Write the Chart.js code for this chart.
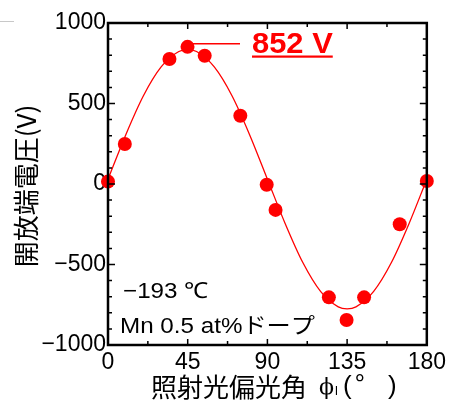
<!DOCTYPE html>
<html>
<head>
<meta charset="utf-8">
<script src="https://cdn.jsdelivr.net/npm/chart.js@4"></script>
<style>
  html, body { margin: 0; padding: 0; background: #fff; }
  #wrap { width: 450px; height: 403px; }
</style>
</head>
<body>
<div id="wrap"><canvas id="chart" width="450" height="403"></canvas></div>
<script>
'use strict';

// measured points
const angles   = [0, 9.5, 34.7, 44.9, 54.6, 74.7, 89.6, 94.6, 124.7, 134.7, 144.6, 164.7, 180];
const voltages = [15, 248, 776, 852, 797, 424, -5, -161, -704, -845, -704, -250, 19];

// fitted curve
const fitAngles   = [0, 10, 20, 30, 40, 45, 50, 60, 70, 80, 90, 100, 110, 120, 130, 135, 140, 150, 160, 170, 180];
const fitVoltages = [30, 305, 548, 727, 823, 835, 823, 727, 548, 305, 30, -245, -488, -667, -763, -775, -763, -667, -488, -245, 30];

const xTicks = [0, 45, 90, 135, 180];
const yTicks = [-1000, -500, 0, 500, 1000];

const RED = '#ff0000';
const LATIN = '"Liberation Sans", Arial, sans-serif';
const CJK = '"Noto Sans CJK JP", "Noto Sans", sans-serif';

function wideText(ctx, text, x, y, sx) {
  ctx.save();
  ctx.translate(x, y);
  ctx.scale(sx, 1);
  ctx.fillText(text, 0, 0);
  ctx.restore();
}

const extras = {
  id: 'extras',
  afterDraw(chart) {
    const { ctx, chartArea: a, scales: { x, y } } = chart;
    ctx.save();

    // stray crop line top-left
    ctx.strokeStyle = '#c8c8c8';
    ctx.lineWidth = 1;
    ctx.beginPath();
    ctx.moveTo(0, 21.5);
    ctx.lineTo(14, 21.5);
    ctx.stroke();

    // frame
    ctx.strokeStyle = '#000';
    ctx.lineWidth = 2.5;
    ctx.strokeRect(a.left, a.top, a.right - a.left, a.bottom - a.top);

    // inward ticks
    ctx.lineWidth = 1.5;
    ctx.beginPath();
    for (let v = 0; v <= 180; v += 22.5) {
      const px = x.getPixelForValue(v);
      const len = v % 45 === 0 ? 6 : 4;
      ctx.moveTo(px, a.bottom); ctx.lineTo(px, a.bottom - len);
      ctx.moveTo(px, a.top);    ctx.lineTo(px, a.top + len);
    }
    for (let v = -1000; v <= 1000; v += 100) {
      const py = y.getPixelForValue(v);
      const len = v % 500 === 0 ? 7 : 4;
      ctx.moveTo(a.left, py);  ctx.lineTo(a.left + len, py);
      ctx.moveTo(a.right, py); ctx.lineTo(a.right - len, py);
    }
    ctx.stroke();

    // peak annotation
    const peakY = y.getPixelForValue(852) - 3;
    ctx.strokeStyle = RED;
    ctx.lineWidth = 1.5;
    ctx.beginPath();
    ctx.moveTo(x.getPixelForValue(44.9) + 2, peakY);
    ctx.lineTo(240, peakY);
    ctx.stroke();
    ctx.fillStyle = RED;
    ctx.font = 'bold 30px ' + LATIN;
    ctx.textBaseline = 'alphabetic';
    ctx.textAlign = 'left';
    const label = '852 V';
    const sx = 1.03;
    wideText(ctx, label, 252, 53, sx);
    const w = ctx.measureText(label).width * sx;
    ctx.fillRect(252, 55.5, w, 2.2);

    // notes
    ctx.fillStyle = '#000';
    ctx.font = '22px ' + LATIN;
    ctx.textBaseline = 'middle';
    wideText(ctx, '\u2212193 \u2103', 123, 292, 1.1);
    ctx.font = '22px ' + LATIN + ', ' + CJK;
    wideText(ctx, 'Mn 0.5 at%\u30c9\u30fc\u30d7', 120, 327, 1.1);

    // x title
    ctx.font = '26px ' + CJK;
    ctx.textBaseline = 'middle';
    let tx = 151;
    const ty = 387;
    ctx.fillText('\u7167\u5c04\u5149\u504f\u5149\u89d2', tx, ty);
    tx += ctx.measureText('\u7167\u5c04\u5149\u504f\u5149\u89d2').width + 12;
    ctx.font = '22px "DejaVu Serif", serif';
    ctx.fillText('\u03d5', tx, ty + 1);
    tx += ctx.measureText('\u03d5').width + 1;
    ctx.font = '13px ' + LATIN;
    ctx.fillText('l', tx, ty + 4);
    tx += 8;
    ctx.font = '26px ' + LATIN;
    ctx.fillText('(', tx, ty);
    ctx.font = '26px ' + CJK;
    ctx.fillText('\u00b0', tx + 12, ty - 3);
    ctx.font = '26px ' + LATIN;
    ctx.fillText(')', 388, ty);

    // y title
    ctx.translate(26, 186);
    ctx.rotate(-Math.PI / 2);
    ctx.textAlign = 'center';
    ctx.font = '26px ' + CJK;
    ctx.fillText('\u958b\u653e\u7aef\u96fb\u5727(V)', 0, 0);

    ctx.restore();
  }
};

new Chart(document.getElementById('chart'), {
  type: 'scatter',
  data: {
    datasets: [
      {
        data: fitAngles.map((a, i) => ({ x: a, y: fitVoltages[i] })),
        showLine: true,
        borderColor: RED,
        borderWidth: 1.3,
        pointRadius: 0,
        cubicInterpolationMode: 'monotone',
        order: 2,
      },
      {
        data: angles.map((a, i) => ({ x: a, y: voltages[i] })),
        backgroundColor: RED,
        borderColor: RED,
        pointRadius: 7,
        borderWidth: 0,
        order: 1,
      },
    ],
  },
  options: {
    responsive: false,
    animation: false,
    clip: false,
    layout: { padding: { top: 23, right: 20, left: 0, bottom: 0 } },
    plugins: { legend: { display: false }, tooltip: { enabled: false } },
    scales: {
      x: {
        type: 'linear',
        min: 0, max: 180,
        afterBuildTicks: s => { s.ticks = xTicks.map(v => ({ value: v })); },
        afterFit: s => { s.height = 58; },
        grid: { display: false, drawTicks: false },
        border: { display: false },
        ticks: {
          autoSkip: false, maxRotation: 0, padding: 4,
          color: '#000', font: { family: LATIN, size: 23 },
        },
      },
      y: {
        type: 'linear',
        min: -1000, max: 1000,
        afterBuildTicks: s => { s.ticks = yTicks.map(v => ({ value: v })); },
        afterFit: s => { s.width = 108; },
        grid: { display: false, drawTicks: false },
        border: { display: false },
        ticks: {
          autoSkip: false, padding: 2,
          color: '#000', font: { family: LATIN, size: 23 },
          callback: v => String(v).replace('-', '\u2212'),
        },
      },
    },
  },
  plugins: [extras],
});
</script>
</body>
</html>
